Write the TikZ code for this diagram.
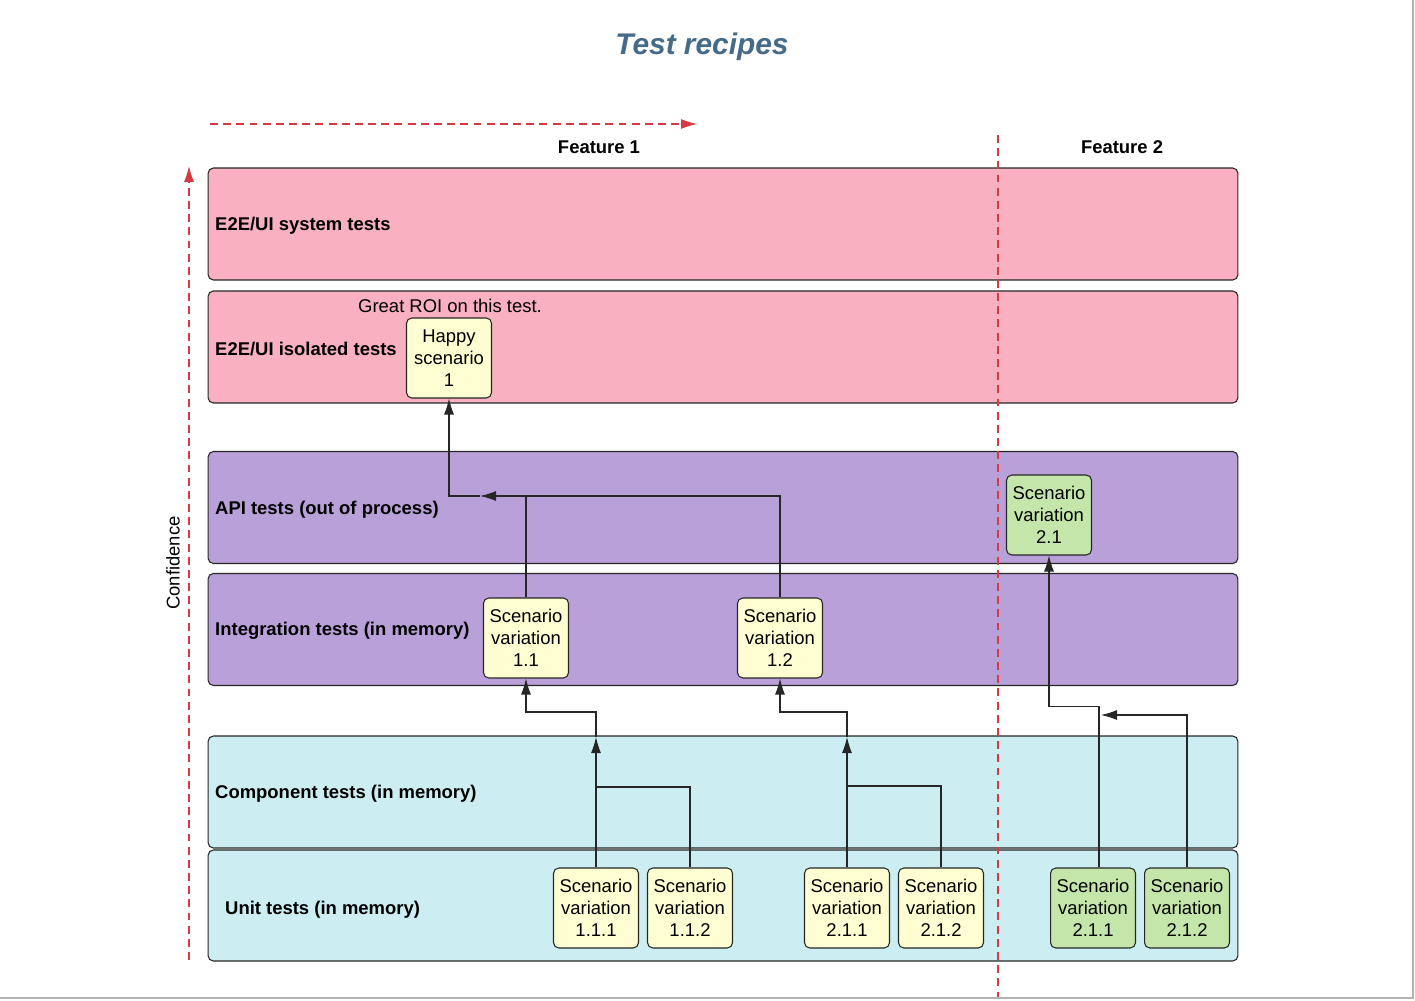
\documentclass[tikz,border=0pt]{standalone}
\usepackage{fontspec}
\setmainfont{Liberation Sans}
\usetikzlibrary{arrows.meta}
\definecolor{pinkfill}{HTML}{F9B0C0}
\definecolor{purplefill}{HTML}{B9A0D8}
\definecolor{cyanfill}{HTML}{CCEEF2}
\definecolor{yellowfill}{HTML}{FFFDD2}
\definecolor{greenfill}{HTML}{C5E6AA}
\definecolor{titleblue}{HTML}{456B88}
\definecolor{dashred}{HTML}{D63A42}
\begin{document}
\begin{tikzpicture}[x=0.02cm,y=-0.02cm,
  >={Latex[length=3.2mm,width=2mm]},
  layer/.style={draw=black!85, line width=0.6pt, rounded corners=3pt,
    minimum width=20.6cm, minimum height=2.24cm},
  layername/.style={anchor=west, font=\bfseries\fontsize{10.5}{12.5}\selectfont},
  scen/.style={draw=black!85, line width=0.6pt, rounded corners=3pt, fill=yellowfill,
    minimum width=1.7cm, minimum height=1.6cm, inner sep=1pt, align=center,
    font=\fontsize{10.5}{12.5}\selectfont},
  greenscen/.style={scen, fill=greenfill},
  conn/.style={draw=black!85, line width=0.6pt},
  redline/.style={draw=dashred, line width=0.6pt, dash pattern=on 4.5pt off 3pt}]
 \useasboundingbox (0,0) rectangle (1415,1000);
 % Title and feature headers
 \node[font=\bfseries\itshape\fontsize{17}{20}\selectfont, text=titleblue] (title) at (702,47) {Test recipes};
 \node[font=\bfseries\fontsize{10.5}{12.5}\selectfont] (feat1) at (599,147) {Feature 1};
 \node[font=\bfseries\fontsize{10.5}{12.5}\selectfont] (feat2) at (1122,147) {Feature 2};
 % Define the layers
 \node[layer, fill=pinkfill] (sys) at (723,224) {};
 \node[layer, fill=pinkfill] (iso) at (723,347) {};
 \node[layer, fill=purplefill] (api) at (723,507.5) {};
 \node[layer, fill=purplefill] (integ) at (723,629.5) {};
 \node[layer, fill=cyanfill] (comp) at (723,792) {};
 \node[layer, fill=cyanfill, minimum height=2.22cm] (unit) at (723,905.5) {};
 \node[layername] (sysname) at (209,226) {E2E/UI system tests};
 \node[layername] (isoname) at (209,349) {E2E/UI isolated tests};
 \node[layername] (apiname) at (209,510) {API tests (out of process)};
 \node[layername] (integname) at (209,631) {Integration tests (in memory)};
 \node[layername] (compname) at (209,794) {Component tests (in memory)};
 \node[layername] (unitname) at (219,910) {Unit tests (in memory)};
 % Axes and feature separator
 \coordinate (xaxis0) at (210,124);
 \coordinate (xaxis1) at (697,124);
 \coordinate (yaxis0) at (189,960);
 \coordinate (yaxis1) at (189,166);
 \coordinate (sep0) at (998,135);
 \coordinate (sep1) at (998,1000);
 \draw[redline, ->] (xaxis0) -- (xaxis1);
 \draw[redline, ->] (yaxis0) -- (yaxis1);
 \draw[redline] (sep0) -- (sep1);
 \node[rotate=90, font=\fontsize{10.5}{12.5}\selectfont] (conf) at (173,563) {Confidence};
 % Scenario boxes
 \node[font=\fontsize{10.5}{12.5}\selectfont] (roi) at (450,306) {Great ROI on this test.};
 \node[scen] (happy) at (449,358) {Happy\\scenario\\1};
 \node[scen] (s11) at (526,638) {Scenario\\variation\\1.1};
 \node[scen] (s12) at (780,638) {Scenario\\variation\\1.2};
 \node[greenscen] (g21) at (1049,515) {Scenario\\variation\\2.1};
 \node[scen] (s111) at (596,908) {Scenario\\variation\\1.1.1};
 \node[scen] (s112) at (690,908) {Scenario\\variation\\1.1.2};
 \node[scen] (s211) at (847,908) {Scenario\\variation\\2.1.1};
 \node[scen] (s212) at (941,908) {Scenario\\variation\\2.1.2};
 \node[greenscen] (g211) at (1093,908) {Scenario\\variation\\2.1.1};
 \node[greenscen] (g212) at (1187,908) {Scenario\\variation\\2.1.2};
 % Draw the connectors
 \coordinate (j11) at (596,737);
 \coordinate (j21) at (847,737);
 \coordinate (j1) at (480,496);
 \coordinate (j3) at (1101,715);
 \draw[conn, ->] (s111.north) -- (j11);
 \draw[conn, ->] (j11) -- (596,712) -| (s11.south);
 \draw[conn] (s112.north) |- (596,787);
 \draw[conn, ->] (s211.north) -- (j21);
 \draw[conn, ->] (j21) -- (847,712) -| (s12.south);
 \draw[conn] (s212.north) |- (847,786);
 \draw[conn, ->] (s11.north) |- (j1);
 \draw[conn, ->] (j1) -| (happy.south);
 \draw[conn] (s12.north) |- (s11.north |- j1);
 \draw[conn, ->] ([xshift=0.12cm]g211.north) -- ++(0,-161) -| (g21.south);
 \draw[conn, ->] (g212.north) |- (j3);
 % Page frame
 \draw[black!30, line width=0.8pt] (1413,0) -- (1413,998) -- (0,998);
\end{tikzpicture}
\end{document}
